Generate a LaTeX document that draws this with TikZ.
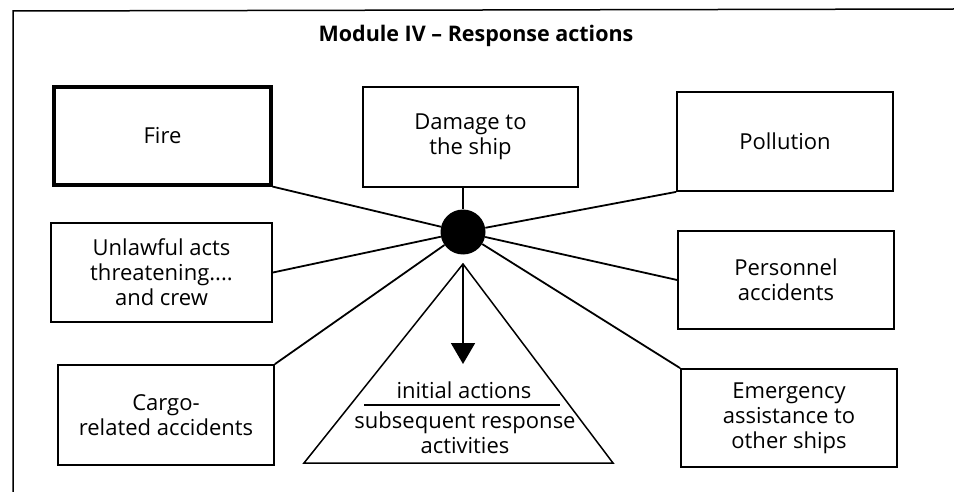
\documentclass[tikz,border=0pt]{standalone}
\usepackage{fontspec}
\setmainfont{Open Sans}
\usetikzlibrary{arrows.meta}
\tikzset{
  box/.style={draw, line width=1.8pt, inner sep=0pt, align=center, font=\fontsize{22}{25}\selectfont},
  thickbox/.style={box, line width=3.2pt},
  conn/.style={line width=1.8pt},
  tritext/.style={inner sep=0pt, font=\fontsize{22}{25}\selectfont},
}
\begin{document}
\begin{tikzpicture}[x=1pt,y=-1pt]
\useasboundingbox (0,0) rectangle (954,492);
% frame
\coordinate (ftl) at (13,11);
\coordinate (ftr) at (954,9);
\coordinate (fbl) at (13,492);
\draw[line width=1.5pt] (fbl) -- (ftl) -- (ftr);
\node[font=\fontsize{21.5}{23}\selectfont\bfseries] (title) at (476,36) {Module IV – Response actions};
% boxes
\node[thickbox, minimum width=217pt, minimum height=98pt] (fire) at (162.5,136) {Fire};
\node[box, minimum width=215pt, minimum height=100pt] (dmg) at (470.5,137) {Damage to\\the ship};
\node[box, minimum width=216pt, minimum height=99pt] (pol) at (785,141.5) {Pollution};
\node[box, minimum width=221pt, minimum height=99pt] (unl) at (161.5,272.5) {Unlawful acts\\threatening....\\and crew};
\node[box, minimum width=216pt, minimum height=98pt] (per) at (786,280) {Personnel\\accidents};
\node[box, minimum width=216pt, minimum height=100pt] (cargo) at (166,415) {Cargo-\\related accidents};
\node[box, minimum width=216pt, minimum height=98pt] (emer) at (789,418) {Emergency\\assistance to\\other ships};
% hub
\node[circle, fill=black, minimum size=45pt, inner sep=0pt] (hub) at (463,232) {};
% connectors
\draw[conn] (fire.south east) -- (hub);
\draw[conn] (dmg.south -| hub) -- (hub);
\draw[conn] (pol.south west) -- (hub);
\draw[conn] (unl.east) -- (hub);
\draw[conn] (per.west) -- (hub);
\draw[conn] (cargo.north east) -- (hub);
\draw[conn] (emer.north west) -- (hub);
% triangle
\coordinate (apex) at (463,264);
\coordinate (bl) at (304,463);
\coordinate (br) at (613,463);
\coordinate (arrowend) at (463,364);
\draw[line width=1.5pt, line join=miter] (apex) -- (bl) -- (br) -- cycle;
\draw[conn, -{Triangle[width=24pt,length=21pt]}] (apex) -- (arrowend);
\node[tritext] (ia) at (464,390) {initial actions};
\node[tritext] (sr) at (465,423) {subsequent response};
\node[tritext] (act) at (465,446) {activities};
\coordinate (dl) at (364,405);
\coordinate (dr) at (560,405);
\draw[line width=1.5pt] (dl) -- (dr);
\end{tikzpicture}
\end{document}
